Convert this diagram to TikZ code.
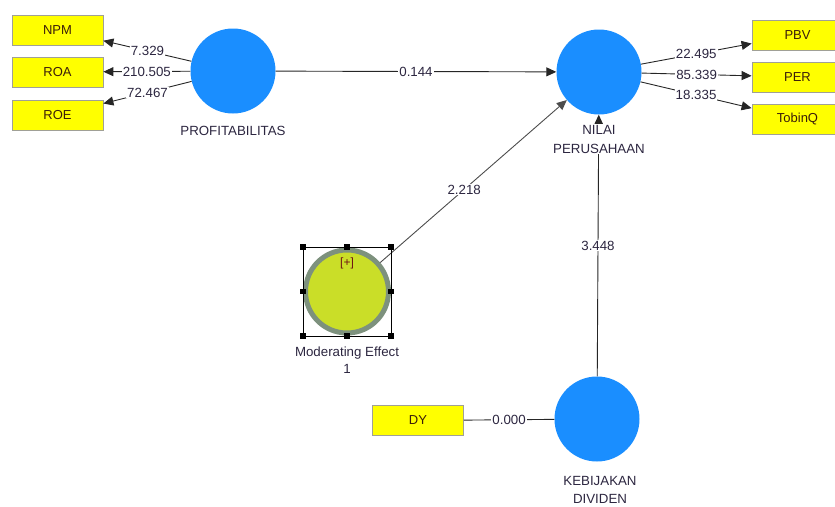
\documentclass[tikz,border=0pt]{standalone}
\usepackage{fontspec}
\setmainfont{Liberation Sans}
\usetikzlibrary{arrows.meta}
\definecolor{lvblue}{RGB}{26,142,255}
\definecolor{indyel}{RGB}{255,255,0}
\definecolor{indborder}{RGB}{160,160,150}
\definecolor{boxtext}{RGB}{60,30,10}
\definecolor{labtext}{RGB}{44,38,64}
\definecolor{modfill}{RGB}{202,222,40}
\definecolor{modring}{RGB}{125,145,125}
\definecolor{plusred}{RGB}{110,20,20}
\begin{document}
\begin{tikzpicture}[x=1pt,y=-1pt,
  lv/.style={circle, fill=lvblue, minimum size=85pt, inner sep=0pt},
  ind/.style={rectangle, fill=indyel, draw=indborder, line width=0.8pt, minimum width=91pt, minimum height=30pt, inner sep=0pt, text=boxtext, font=\fontsize{13}{15}\selectfont},
  wt/.style={fill=white, inner sep=1pt, text=labtext, font=\fontsize{13.3}{15}\selectfont},
  arr/.style={draw=black!85, line width=0.9pt, -{Triangle[length=10pt,width=9pt]}},
  plain/.style={draw=black!85, line width=0.9pt},
  lab/.style={text=labtext, align=center, inner sep=1pt, font=\fontsize{13.3}{19}\selectfont},
  handle/.style={fill=black, minimum size=5.5pt, inner sep=0pt, rectangle}
]
\useasboundingbox (0,0) rectangle (835,506);
\clip (0,0) rectangle (835,506);

% latent variables
\node[lv] (prof) at (233,71) {};
\node[lv] (nilai) at (599,72) {};
\node[lv] (kebij) at (597,419) {};
\node[circle, fill=modfill, draw=modring, line width=5pt, minimum size=83pt, inner sep=0pt] (mod) at (347,291.5) {};

% indicators
\node[ind] (npm) at (57.5,30) {NPM};
\node[ind] (roa) at (57.5,72) {ROA};
\node[ind] (roe) at (57.5,115) {ROE};
\node[ind] (pbv) at (797.5,35) {PBV};
\node[ind] (per) at (797.5,77) {PER};
\node[ind] (tobin) at (797.5,119) {TobinQ};
\node[ind] (dy) at (418,420.5) {DY};

% outer loadings
\draw[arr] (prof) -- node[wt]{7.329} (npm);
\draw[arr] (prof) -- node[wt]{210.505} (roa);
\draw[arr] (prof) -- node[wt]{72.467} (roe);
\draw[arr] (nilai) -- node[wt]{22.495} (pbv);
\draw[arr] (nilai) -- node[wt]{85.339} (per);
\draw[arr] (nilai) -- node[wt]{18.335} (tobin);
\draw[plain] (dy) -- node[wt]{0.000} (kebij);

% structural paths
\draw[arr] (prof) -- node[wt]{0.144} (nilai);
\draw[arr, draw=black!70] (mod) -- node[wt, pos=0.45]{2.218} (nilai);
\draw[arr] (kebij) -- node[wt]{3.448} (nilai);

% selection frame on moderating effect
\draw[black, line width=0.8pt] (303,247) rectangle (391,336);
\foreach \hx/\hy [count=\i] in {303/247,347/247,391/247,303/291.5,391/291.5,303/336,347/336,391/336}
  \node[handle] (h\i) at (\hx,\hy) {};
\node[text=plusred, font=\fontsize{12}{14}\selectfont] (plus) at (347,263) {[+]};

% labels
\node[lab, anchor=north] (proflab) at (233,125) {PROFITABILITAS};
\node[lab, fill=white, anchor=north] (nilailab) at (599,124) {NILAI\\PERUSAHAAN};
\node[lab, anchor=north, font=\fontsize{13.3}{17}\selectfont] (modlab) at (347,346) {Moderating Effect\\1};
\node[lab, anchor=north, font=\fontsize{13.3}{18}\selectfont] (kebijlab) at (600,475) {KEBIJAKAN\\DIVIDEN};
\end{tikzpicture}
\end{document}
